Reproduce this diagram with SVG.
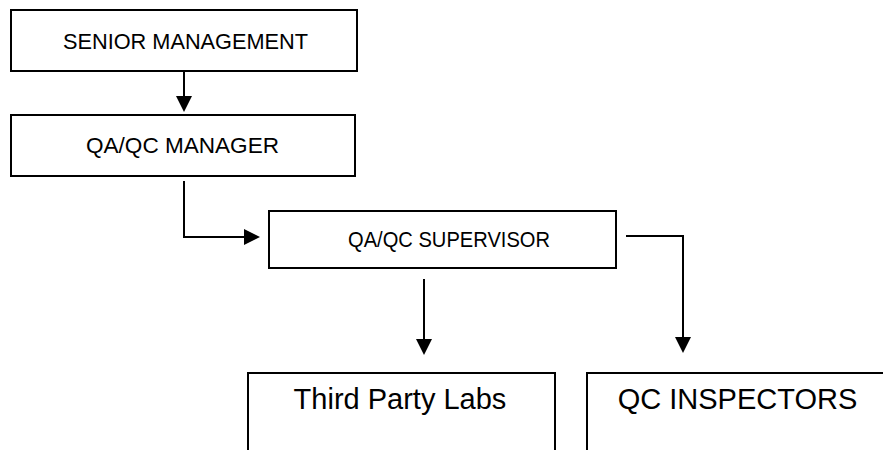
<svg xmlns="http://www.w3.org/2000/svg" width="883" height="450" viewBox="0 0 883 450">
<style>
.box{fill:#fff;stroke:#000;stroke-width:2}
.t1{font-family:"Liberation Sans",Arial,sans-serif;font-size:22px;fill:#000}
.t2{font-family:"Liberation Sans",Arial,sans-serif;font-size:29px;fill:#000;text-anchor:middle}
.conn{fill:none;stroke:#000;stroke-width:2}
</style>
<defs>
<marker id="arr" markerUnits="userSpaceOnUse" markerWidth="16" markerHeight="16" viewBox="0 0 16 16" refX="8" refY="8" orient="auto">
<path d="M0,0 L16,8 L0,16 z" fill="#000"/>
</marker>
</defs>
<rect width="883" height="450" fill="#fff"/>
<g id="connectors">
<path class="conn" d="M184,71 L184,104" marker-end="url(#arr)"/>
<path class="conn" d="M184,181 L184,237 L252,237" marker-end="url(#arr)"/>
<path class="conn" d="M424,279 L424,347" marker-end="url(#arr)"/>
<path class="conn" d="M626,236 L683,236 L683,345" marker-end="url(#arr)"/>
</g>
<g id="senior">
<rect class="box" x="11" y="10" width="346" height="61"/>
<text class="t1" x="63" y="48.5" textLength="245" lengthAdjust="spacingAndGlyphs">SENIOR MANAGEMENT</text>
</g>
<g id="manager">
<rect class="box" x="11" y="115" width="344" height="61"/>
<text class="t1" x="86" y="153" textLength="193" lengthAdjust="spacingAndGlyphs">QA/QC MANAGER</text>
</g>
<g id="supervisor">
<rect class="box" x="269" y="211" width="347" height="57"/>
<text class="t1" x="348" y="247" textLength="202" lengthAdjust="spacingAndGlyphs">QA/QC SUPERVISOR</text>
</g>
<g id="labs">
<rect class="box" x="248" y="373" width="307" height="100"/>
<text class="t2" x="400" y="409">Third Party Labs</text>
</g>
<g id="inspectors">
<rect class="box" x="587" y="373" width="320" height="100"/>
<text class="t2" x="737.5" y="409">QC INSPECTORS</text>
</g>
</svg>
